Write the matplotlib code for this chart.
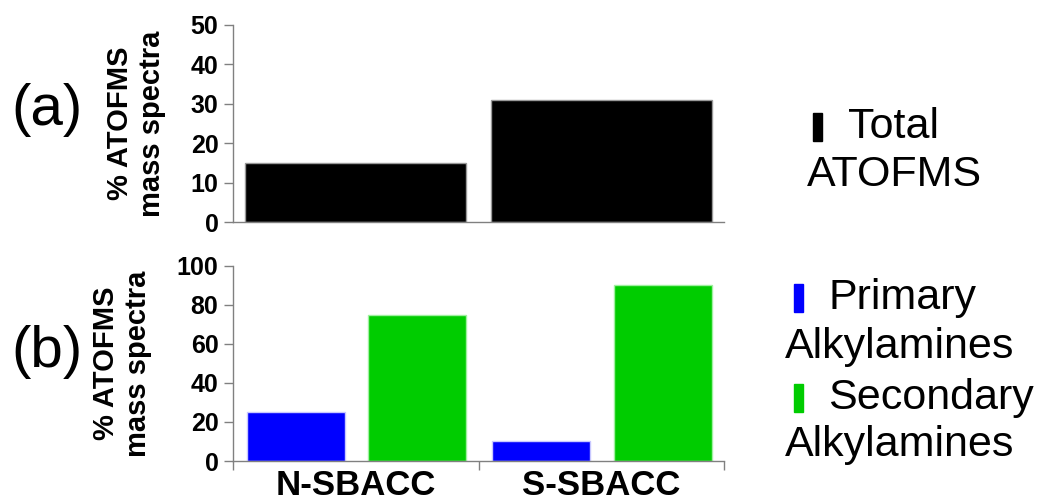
import matplotlib.pyplot as plt
from matplotlib.patches import Rectangle

plt.rcParams['font.family'] = ['Liberation Sans', 'DejaVu Sans']

sitios = ["N-SBACC", "S-SBACC"]
total_atofms = [15, 31]
primarias = [25, 10]
secundarias = [75, 90]

GRIS = '#808080'
AZUL = '#0000ff'
VERDE = '#00cc00'

fig = plt.figure(figsize=(10.45, 5.04), dpi=100)
ax1 = fig.add_axes([0.223, 0.5595, 0.4698, 0.391])
ax2 = fig.add_axes([0.223, 0.0853, 0.4698, 0.3875])

x = list(range(len(sitios)))

# (a) total
ax1.bar(x, total_atofms, width=0.9, color='black', edgecolor='#999999', linewidth=1)
ax1.set_ylim(0, 50)
ax1.set_yticks([0, 10, 20, 30, 40, 50])
ax1.set_xticks([])

# (b) primarias / secundarias
ax2.bar([i - 0.245 for i in x], primarias, width=0.4, color=AZUL, edgecolor='#c8c8ff', linewidth=1)
ax2.bar([i + 0.25 for i in x], secundarias, width=0.4, color=VERDE, edgecolor='#a0f0a0', linewidth=1)
ax2.set_ylim(0, 100)
ax2.set_yticks([0, 20, 40, 60, 80, 100])
ax2.set_xticks([-0.5, 0.5, 1.5])
ax2.set_xticklabels([])
ax2.set_xticks(x, minor=True)
ax2.set_xticklabels(sitios, minor=True, fontsize=25, fontweight='bold')
ax2.tick_params(axis='x', which='minor', length=0, pad=6)
ax2.tick_params(axis='x', which='major', direction='out', length=6.5, color=GRIS, width=1)

for ax in (ax1, ax2):
    ax.set_xlim(-0.5, 1.5)
    for s in ('top', 'right'):
        ax.spines[s].set_visible(False)
    for s in ('left', 'bottom'):
        ax.spines[s].set_color(GRIS)
        ax.spines[s].set_linewidth(1)
    ax.tick_params(axis='y', direction='out', length=6.5, color=GRIS, width=1, labelsize=18, pad=4)
    for lbl in ax.get_yticklabels():
        lbl.set_fontweight('bold')
    ax.set_ylabel("% ATOFMS\nmass spectra", fontsize=21, fontweight='bold', labelpad=18, linespacing=1.15)

# etiquetas de panel
fig.text(47 / 1045, 1 - 110 / 504, "(a)", fontsize=42, ha='center', va='center')
fig.text(47 / 1045, 1 - 352 / 504, "(b)", fontsize=42, ha='center', va='center')

# leyendas hechas a mano
def marca(xpx, ypx, color):
    fig.patches.append(Rectangle((xpx / 1045, 1 - (ypx + 28) / 504), 9 / 1045, 28 / 504,
                                 transform=fig.transFigure, color=color))

marca(813, 113, 'black')
fig.text(848 / 1045, 1 - 127 / 504, "Total", fontsize=31, ha='left', va='center')
fig.text(894 / 1045, 1 - 175 / 504, "ATOFMS", fontsize=31, ha='center', va='center')

marca(794, 284, AZUL)
fig.text(828 / 1045, 1 - 298 / 504, "Primary", fontsize=31, ha='left', va='center')
fig.text(900 / 1045, 1 - 347 / 504, "Alkylamines", fontsize=31, ha='center', va='center')

marca(794, 384, VERDE)
fig.text(828 / 1045, 1 - 398 / 504, "Secondary", fontsize=31, ha='left', va='center')
fig.text(900 / 1045, 1 - 445 / 504, "Alkylamines", fontsize=31, ha='center', va='center')

fig.savefig("out.png", dpi=100)
